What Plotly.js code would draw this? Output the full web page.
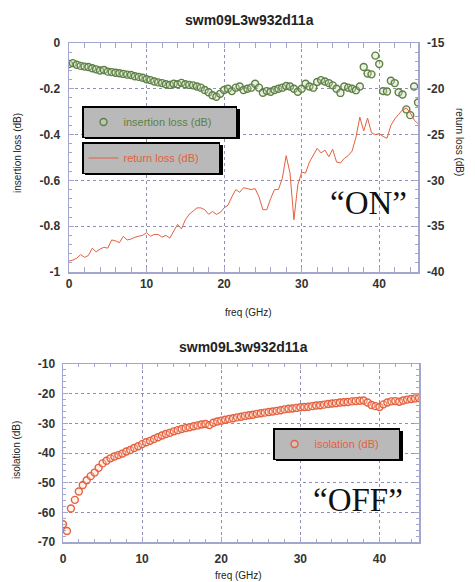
<!DOCTYPE html>
<html>
<head>
<meta charset="utf-8">
<script src="https://cdn.plot.ly/plotly-3.0.1.min.js"></script>
<style>html,body{margin:0;padding:0;background:#fff;}#chart{width:475px;height:582px;}</style>
</head>
<body>
<div id="chart"></div>
<script>
// ---- data ----
const freq = [0,0.5,1,1.5,2,2.5,3,3.5,4,4.5,5,5.5,6,6.5,7,7.5,8,8.5,9,9.5,
  10,10.5,11,11.5,12,12.5,13,13.5,14,14.5,15,15.5,16,16.5,17,17.5,18,18.5,19,19.5,
  20,20.5,21,21.5,22,22.5,23,23.5,24,24.5,25,25.5,26,26.5,27,27.5,28,28.5,29,29.5,
  30,30.5,31,31.5,32,32.5,33,33.5,34,34.5,35,35.5,36,36.5,37,37.5,38,38.5,39,39.5,
  40,40.5,41,41.5,42,42.5,43,43.5,44,44.5,45];

const insertionLoss = [-0.092,-0.088,-0.095,-0.1,-0.103,-0.105,-0.11,-0.115,-0.12,-0.118,
  -0.125,-0.127,-0.13,-0.132,-0.135,-0.138,-0.14,-0.145,-0.148,-0.152,
  -0.158,-0.162,-0.168,-0.172,-0.175,-0.18,-0.183,-0.178,-0.18,-0.174,
  -0.18,-0.183,-0.185,-0.19,-0.195,-0.205,-0.215,-0.228,-0.235,-0.222,
  -0.205,-0.2,-0.21,-0.195,-0.19,-0.205,-0.2,-0.195,-0.178,-0.195,
  -0.217,-0.21,-0.213,-0.205,-0.2,-0.195,-0.188,-0.19,-0.2,-0.213,
  -0.2,-0.178,-0.19,-0.195,-0.17,-0.162,-0.168,-0.175,-0.185,-0.2,
  -0.218,-0.19,-0.195,-0.2,-0.206,-0.19,-0.105,-0.133,-0.137,-0.055,
  -0.092,-0.21,-0.212,-0.165,-0.175,-0.215,-0.225,-0.29,-0.315,-0.19,-0.26];

const returnLoss = [-38.8,-38.7,-38.5,-38.1,-38.4,-38.2,-37.4,-37.8,-37.5,-37.3,
  -37.4,-36.5,-36.6,-36.8,-36.1,-36.5,-36.4,-36.2,-36.1,-36.0,
  -35.7,-36.1,-35.9,-35.9,-36.2,-36.0,-36.3,-35.6,-34.8,-35.3,
  -34.3,-33.7,-33.4,-33.0,-33.0,-33.2,-33.7,-33.4,-33.7,-33.5,
  -33.0,-32.7,-31.8,-31.0,-31.3,-30.8,-30.9,-31.0,-30.9,-31.8,
  -33.2,-33.2,-32.0,-31.0,-31.0,-29.8,-27.3,-29.2,-34.3,-30.5,
  -29.1,-29.2,-28.0,-27.3,-26.5,-27.0,-26.7,-27.4,-26.6,-28.0,
  -28.1,-27.6,-27.3,-26.8,-25.3,-23.1,-24.6,-23.2,-24.8,-25.0,
  -24.9,-25.2,-25.4,-24.0,-23.3,-22.8,-22.3,-22.1,-22.6,-23.4,-23.8];

const isolation = [-64,-66.3,-58.7,-55.8,-53,-50.8,-49.2,-47.8,-46.6,-45.0,
  -43.5,-42.6,-41.8,-41.2,-40.7,-40.2,-39.5,-39.0,-38.3,-37.7,
  -37.0,-36.4,-35.9,-35.3,-34.7,-34.1,-33.6,-33.2,-32.7,-32.3,
  -31.9,-31.6,-31.3,-31.0,-30.7,-30.4,-30.2,-30.6,-29.8,-29.4,
  -29.1,-28.8,-28.5,-28.3,-28.0,-27.8,-27.5,-27.3,-27.1,-26.8,
  -26.6,-26.4,-26.2,-26.0,-25.8,-25.6,-25.3,-25.1,-25.0,-24.8,
  -24.6,-24.5,-24.4,-24.2,-24.0,-23.9,-23.7,-23.5,-23.3,-23.2,
  -23.0,-22.9,-22.8,-22.6,-22.5,-22.4,-22.3,-23.0,-23.8,-24.2,
  -24.5,-23.6,-23.0,-22.6,-22.5,-22.7,-22.3,-22.0,-21.8,-21.6,-21.5];

const xTicks = [0,10,20,30,40];
const xTickText = ['0','10','20','30','40'];
const ilTicks = [0,-0.2,-0.4,-0.6,-0.8,-1];
const ilTickText = ['0','-0.2','-0.4','-0.6','-0.8','-1'];
const rlTicks = [-15,-20,-25,-30,-35,-40];
const rlTickText = ['-15','-20','-25','-30','-35','-40'];
const isoTicks = [-10,-20,-30,-40,-50,-60,-70];
const isoTickText = ['-10','-20','-30','-40','-50','-60','-70'];

const chartTitle = 'swm09L3w932d11a';

// ---- styling ----
const W = 475, H = 582;
const px = v => v / W;
const py = v => 1 - v / H;
const SANS = 'Liberation Sans, Arial, sans-serif';
const frameColor = '#a3a6cf';
const gridColor = '#8d90b4';
const tickFont = {family: SANS, size: 12, color: '#333', weight: 'bold'};
const green = '#5e7f45';
const red = '#e5603f';

function axisBase(extra) {
  return Object.assign({
    showline: true, linecolor: frameColor, linewidth: 1.5, mirror: 'allticks',
    ticks: 'inside', ticklen: 5, tickcolor: frameColor, tickwidth: 1,
    showgrid: true, gridcolor: gridColor, griddash: 'dot', gridwidth: 1,
    zeroline: false, tickfont: tickFont, fixedrange: true
  }, extra);
}

const traces = [
  {x: freq, y: insertionLoss, xaxis: 'x', yaxis: 'y', type: 'scatter', mode: 'markers',
   name: 'insertion loss (dB)', legend: 'legend',
   marker: {symbol: 'circle', size: 7, color: 'rgba(200,220,180,0.35)', line: {color: green, width: 1.4}}},
  {x: freq, y: returnLoss, xaxis: 'x', yaxis: 'y3', type: 'scatter', mode: 'lines',
   name: 'return loss (dB)', legend: 'legend2',
   line: {color: red, width: 1}},
  {x: freq, y: isolation, xaxis: 'x2', yaxis: 'y2', type: 'scatter', mode: 'markers',
   name: 'isolation (dB)', legend: 'legend3',
   marker: {symbol: 'circle', size: 7, color: 'rgba(255,220,200,0.35)', line: {color: red, width: 1.4}}}
];

function legendCfg(x, y, color, w) {
  return {x: x, y: y, xanchor: 'left', yanchor: 'top', orientation: 'h',
    bgcolor: '#b9b9b9', bordercolor: '#000', borderwidth: 1.5,
    font: {family: SANS, size: 11, color: color}, entrywidth: w, entrywidthmode: 'pixels'};
}

function shadow(x0, y0, x1, y1) {
  return {type: 'rect', xref: 'paper', yref: 'paper', x0: px(x0), x1: px(x1), y0: py(y1), y1: py(y0),
    fillcolor: '#000', line: {width: 0}, layer: 'above'};
}

const ann = (text, x, y, extra) => Object.assign({text: text, x: px(x), y: py(y), xref: 'paper', yref: 'paper',
  showarrow: false, xanchor: 'center', yanchor: 'middle'}, extra || {});

const layout = {
  width: W, height: H, margin: {l: 0, r: 0, t: 0, b: 0},
  paper_bgcolor: '#fff', plot_bgcolor: '#fff', showlegend: true,
  xaxis: axisBase({domain: [px(69), px(418)], range: [0, 45], anchor: 'y',
    tickvals: xTicks, ticktext: xTickText, ticklabelstandoff: 0,
    minor: {dtick: 2, ticks: 'inside', ticklen: 3, tickcolor: frameColor, showgrid: false}}),
  yaxis: axisBase({domain: [py(272), py(43)], range: [-1, 0], anchor: 'x',
    tickvals: ilTicks, ticktext: ilTickText, ticklabelstandoff: 5,
    minor: {dtick: 0.04, ticks: 'inside', ticklen: 3, tickcolor: frameColor, showgrid: false}}),
  yaxis3: {overlaying: 'y', side: 'right', range: [-40, -15], anchor: 'x',
    tickvals: rlTicks, ticktext: rlTickText, ticks: '', showgrid: false, showline: false,
    zeroline: false, tickfont: tickFont, ticklabelstandoff: 8, fixedrange: true},
  xaxis2: axisBase({domain: [px(63), px(419)], range: [0, 45], anchor: 'y2',
    tickvals: xTicks, ticktext: xTickText, ticklabelstandoff: 5,
    minor: {dtick: 2, ticks: 'inside', ticklen: 3, tickcolor: frameColor, showgrid: false}}),
  yaxis2: axisBase({domain: [py(542), py(364)], range: [-70, -10], anchor: 'x2',
    tickvals: isoTicks, ticktext: isoTickText, ticklabelstandoff: 4,
    minor: {dtick: 2, ticks: 'inside', ticklen: 3, tickcolor: frameColor, showgrid: false}}),
  legend: legendCfg(px(82), py(106), green, 107),
  legend2: legendCfg(px(82), py(142), red, 90),
  legend3: legendCfg(px(273), py(428), red, 79),
  shapes: [
    shadow(85, 109, 240, 139),
    shadow(85, 145, 223, 175),
    shadow(276, 431, 403, 461)
  ],
  annotations: [
    ann(chartTitle, 249, 20, {font: {family: SANS, size: 14, color: '#222', weight: 'bold'}}),
    ann(chartTitle, 244, 347, {font: {family: SANS, size: 14, color: '#222', weight: 'bold'}}),
    ann('freq (GHz)', 248, 312, {font: {family: SANS, size: 10, color: '#222'}}),
    ann('freq (GHz)', 238, 575, {font: {family: SANS, size: 10, color: '#222'}}),
    ann('insertion loss (dB)', 18, 153, {textangle: -90, font: {family: SANS, size: 10, color: '#222'}}),
    ann('return loss (dB)', 460, 142, {textangle: 90, font: {family: SANS, size: 10, color: '#222'}}),
    ann('isolation (dB)', 16, 450, {textangle: -90, font: {family: SANS, size: 10, color: '#222'}}),
    ann('\u201CON\u201D', 368, 203, {font: {family: 'Liberation Serif, Times New Roman, serif', size: 33, color: '#111'}}),
    ann('\u201COFF\u201D', 358, 500, {font: {family: 'Liberation Serif, Times New Roman, serif', size: 33, color: '#111'}})
  ]
};

Plotly.newPlot('chart', traces, layout, {displayModeBar: false, staticPlot: true});
</script>
</body>
</html>
